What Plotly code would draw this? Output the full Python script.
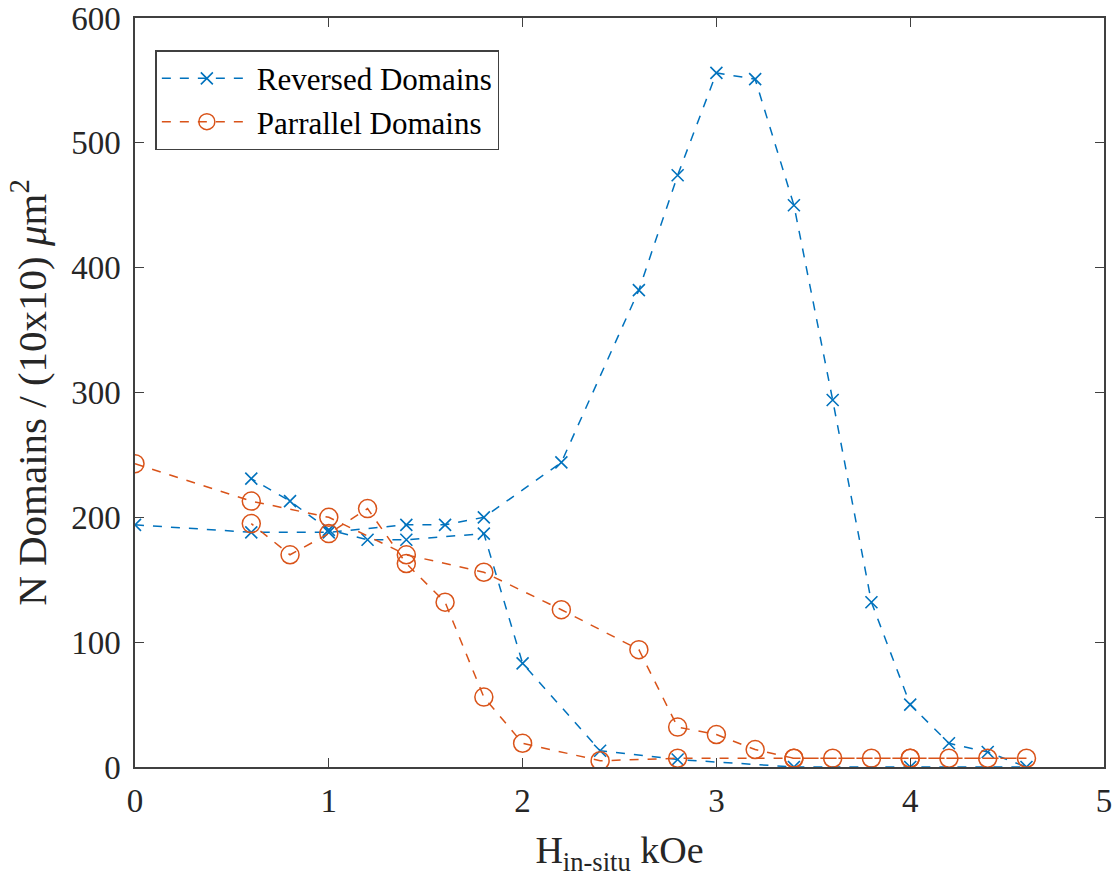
import plotly.graph_objects as go

# Reversed domains: forward sweep then return sweep (single loop, as in the original)
rev_x = [0, 0.6, 1.0, 1.4, 1.6, 1.8, 2.2, 2.6, 2.8, 3.0, 3.2, 3.4, 3.6, 3.8, 4.0, 4.2, 4.4, 4.6,
         4.0, 3.4, 2.8, 2.4, 2.0, 1.8, 1.4, 1.2, 1.0, 0.8, 0.6]
rev_y = [194, 188, 188, 194, 194, 200, 244, 382, 474, 556, 551, 450, 294, 132, 50, 19, 12, 0,
         0, 0, 6, 13, 83, 187, 182, 182, 190, 213, 231]

# Parallel domains
par_x = [0, 0.6, 1.0, 1.4, 1.8, 2.2, 2.6, 2.8, 3.0, 3.2, 3.4, 3.6, 3.8, 4.0, 4.2, 4.4, 4.6,
         4.0, 3.4, 2.8, 2.4, 2.0, 1.8, 1.6, 1.4, 1.2, 1.0, 0.8, 0.6]
par_y = [243, 213, 200, 170, 156, 126, 94, 32, 26, 14, 7, 7, 7, 7, 7, 7, 7,
         7, 7, 7, 5, 19, 56, 132, 163, 207, 187, 170, 195]

x_ticks = [0, 1, 2, 3, 4, 5]
y_ticks = [0, 100, 200, 300, 400, 500, 600]

BLUE = "#0072BD"
ORANGE = "#D95319"
FONT = "Liberation Serif"

fig = go.Figure()
fig.add_trace(go.Scatter(
    x=rev_x, y=rev_y, mode="lines+markers", name="Reversed Domains",
    line=dict(color=BLUE, width=1.5, dash="dash"),
    marker=dict(symbol="x-thin-open", size=12, line=dict(color=BLUE, width=1.6), color=BLUE),
))
fig.add_trace(go.Scatter(
    x=par_x, y=par_y, mode="lines+markers", name="Parrallel Domains",
    line=dict(color=ORANGE, width=1.5, dash="dash"),
    marker=dict(symbol="circle-open", size=18, line=dict(color=ORANGE, width=1.5), color=ORANGE),
))

axis_common = dict(
    showgrid=False, zeroline=False, showline=True, linecolor="#404040", linewidth=1.5,
    mirror="ticks", ticks="inside", ticklen=9, tickcolor="#404040", tickwidth=1,
    tickfont=dict(family=FONT, size=33, color="#262626"),
)

fig.update_layout(
    width=1113, height=883,
    margin=dict(l=135, r=9, t=18, b=116, autoexpand=False),
    paper_bgcolor="white", plot_bgcolor="white",
    font=dict(family=FONT, color="#262626"),
    xaxis=dict(range=[0, 5], tickvals=x_ticks, ticklabelstandoff=4,
               title=dict(text="H<sub>in-situ</sub> kOe", font=dict(family=FONT, size=38), standoff=18),
               **axis_common),
    yaxis=dict(range=[0, 600], tickvals=y_ticks, ticklabelstandoff=6,
               title=dict(text="N Domains / (10x10) <i>μ</i>m<sup>2</sup>", font=dict(family=FONT, size=41), standoff=12),
               **axis_common),
    legend=dict(x=0.021, y=0.957, xanchor="left", yanchor="top",
                bgcolor="white", bordercolor="#404040", borderwidth=1.5,
                font=dict(family=FONT, size=31, color="#000000"),
                itemwidth=90, tracegroupgap=0),
    showlegend=True,
)

fig.write_html("out.html")
